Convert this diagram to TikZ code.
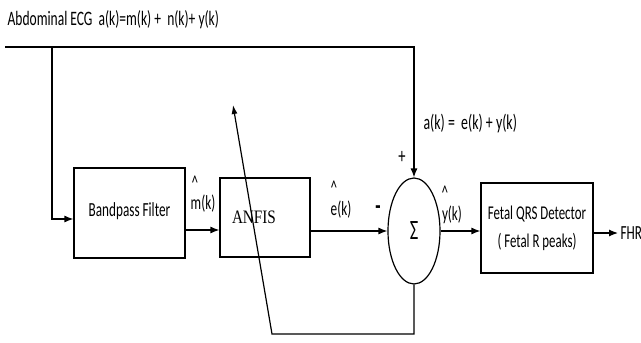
\documentclass[tikz,border=0pt]{standalone}
\usepackage{fontspec}
\setmainfont{Carlito}[FakeStretch=0.66]
\newfontfamily\anfisfont{Liberation Serif}[FakeStretch=0.8]
\usetikzlibrary{shapes.geometric, positioning, calc, arrows.meta}

\begin{document}
\begin{tikzpicture}[x=1pt, y=-1pt, line width=1.2pt,
    arr/.style={-{Latex[length=9pt, width=7pt]}},
    blockbox/.style={draw, inner sep=0pt, font=\fontsize{20}{22}\selectfont},
    lbl/.style={inner sep=0pt, font=\fontsize{20}{22}\selectfont}]
    \useasboundingbox (0,0) rectangle (641,343);

    % Input signal
    \node[lbl, anchor=base west, font=\fontsize{20.5}{22}\selectfont] (title) at (7,25)
        {Abdominal ECG~~a(k)=m(k) +~~n(k)+ y(k)};
    \coordinate (tl) at (5,47);
    \coordinate (br) at (52,47);

    % Blocks
    \node[blockbox, minimum width=111pt, minimum height=90pt] (bpf) at (129.5,213)
        {\raisebox{6pt}{Bandpass Filter}};
    \node[blockbox, minimum height=79pt, text width=66pt, inner xsep=12pt, align=left,
          font=\anfisfont\fontsize{19}{22}\selectfont] (anfis) at (265,217.5) {ANFIS};
    \node[draw, ellipse, minimum width=52pt, minimum height=106pt, inner sep=0pt,
          font=\fontsize{28}{28}\selectfont] (sum) at (414,231) {Σ};
    \node[blockbox, minimum width=112pt, minimum height=90pt, align=center,
          font=\fontsize{19.5}{28}\selectfont] (det) at (537,228)
        {Fetal QRS Detector\\( Fetal R peaks)};

    % Labels
    \node[lbl] (mhat) at (203,204) {m(k)};
    \node[lbl] (mcaret) at (195,183) {\textasciicircum};
    \node[lbl] (ehat) at (341,210) {e(k)};
    \node[lbl] (ecaret) at (334,188) {\textasciicircum};
    \node[lbl] (yhat) at (452,215) {y(k)};
    \node[lbl] (ycaret) at (445,193) {\textasciicircum};
    \node[lbl, font=\bfseries\fontsize{26}{26}\selectfont] (minus) at (378,210) {-};
    \node[lbl, font=\fontsize{22}{22}\selectfont] (plus) at (402,157) {+};
    \node[lbl, anchor=west, font=\fontsize{21}{22}\selectfont] (aeq) at (423,124) {a(k) =~ e(k) + y(k)};

    % Connections
    \coordinate (m1) at (185,230);
    \coordinate (fb) at (272,334);
    \coordinate (fbtip) at (233,105);
    \coordinate (o1) at (593,233);
    \draw[arr] (tl) -- (tl -| sum.north) -- (sum.north);
    \draw[arr] (br) |- ([yshift=-6pt]bpf.west);
    \draw[arr] (m1) -- (m1 -| anfis.west);
    \draw[arr] (sum.west -| anfis.east) -- (sum.west);
    \draw[arr] (sum.east) -- (sum.east -| det.west);
    \draw[arr] (o1) -- ++(25,0) node[lbl, anchor=west, xshift=2pt] (fhr) {FHR};
    \draw[-{Latex[length=9pt, width=6pt]}] (sum.south) |- (fb) -- (fbtip);
\end{tikzpicture}
\end{document}
